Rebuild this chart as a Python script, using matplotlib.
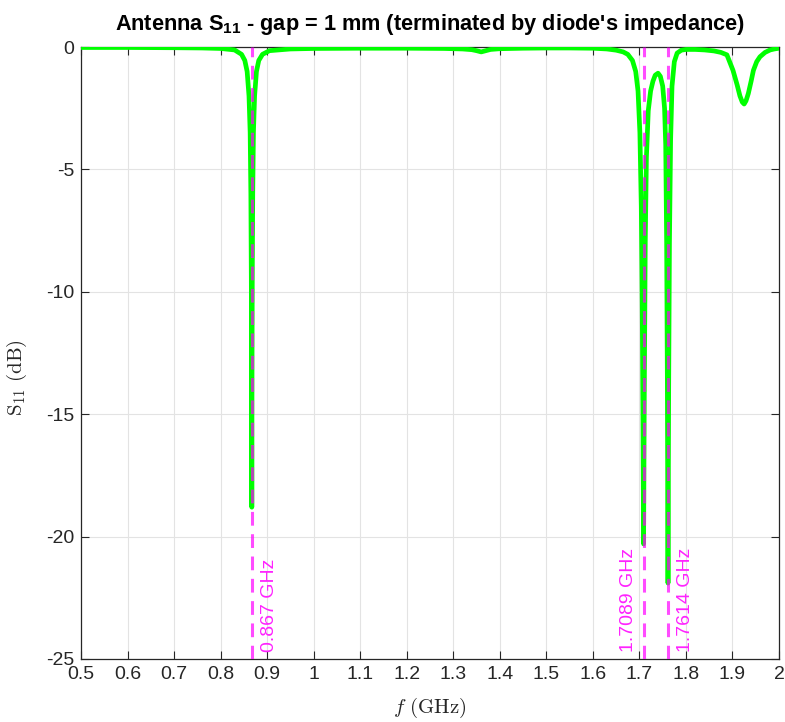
import numpy as np
import matplotlib.pyplot as plt

plt.rcParams['font.family'] = ['Liberation Sans', 'DejaVu Sans']
plt.rcParams['mathtext.fontset'] = 'cm'
plt.rcParams['mathtext.rm'] = 'Liberation Sans'
plt.rcParams['mathtext.bf'] = 'Liberation Sans:bold'

# frequency sweep (GHz) and return loss (dB)
freq_ghz = [
    0.50, 0.60, 0.70, 0.76, 0.80, 0.83, 0.845, 0.852, 0.857, 0.861,
    0.8635, 0.865, 0.866, 0.8665, 0.867, 0.8675, 0.868, 0.869, 0.8705, 0.873,
    0.877, 0.882, 0.89, 0.905, 0.95, 1.00, 1.10, 1.20, 1.28, 1.32,
    1.34, 1.35, 1.36, 1.37, 1.38, 1.40, 1.45, 1.50, 1.55, 1.60,
    1.63, 1.65, 1.665, 1.675, 1.685, 1.692, 1.697, 1.701, 1.704, 1.706,
    1.7075, 1.7089, 1.7105, 1.7125, 1.715, 1.719, 1.724, 1.729, 1.734, 1.740,
    1.745, 1.750, 1.754, 1.7565, 1.7585, 1.760, 1.7614, 1.7628, 1.7645, 1.767,
    1.770, 1.775, 1.781, 1.79, 1.80, 1.82, 1.84, 1.86, 1.875, 1.888,
    1.901, 1.910, 1.916, 1.921, 1.925, 1.929, 1.934, 1.940, 1.945, 1.952,
    1.959, 1.970, 1.981, 1.990, 2.00,
]
s11_db = [
    -0.02, -0.02, -0.03, -0.04, -0.06, -0.12, -0.3, -0.55, -1.0, -2.0,
    -3.5, -6.0, -9.5, -13.0, -18.8, -13.0, -9.5, -6.0, -3.5, -2.0,
    -1.0, -0.55, -0.3, -0.15, -0.08, -0.06, -0.05, -0.05, -0.06, -0.08,
    -0.11, -0.15, -0.2, -0.15, -0.1, -0.07, -0.05, -0.04, -0.04, -0.05,
    -0.08, -0.13, -0.2, -0.3, -0.55, -1.0, -1.8, -3.5, -6.5, -10.5,
    -15.0, -20.3, -14.0, -8.0, -4.5, -2.6, -1.8, -1.4, -1.15, -1.07,
    -1.2, -1.6, -2.5, -4.0, -8.0, -13.5, -21.9, -14.0, -8.0, -3.8,
    -1.6, -0.6, -0.25, -0.13, -0.1, -0.1, -0.12, -0.16, -0.22, -0.32,
    -0.95, -1.55, -2.0, -2.25, -2.33, -2.2, -1.9, -1.4, -0.95, -0.6,
    -0.4, -0.22, -0.12, -0.08, -0.05,
]

# resonance markers
marker_freqs = [0.867, 1.7089, 1.7614]
marker_labels = ['0.867 GHz', '1.7089 GHz', '1.7614 GHz']
marker_side = ['right', 'left', 'right']

fig = plt.figure(figsize=(7.85, 7.22), dpi=100)
ax = fig.add_axes([0.1032, 0.0873, 0.8892, 0.8476])

ax.plot(freq_ghz, s11_db, color='#00ff00', lw=3.4, solid_capstyle='butt', zorder=3)

for fm, lab, side in zip(marker_freqs, marker_labels, marker_side):
    ax.axvline(fm, color='#ff00ff', alpha=0.7, lw=2.2, ls=(0, (4.5, 2.8)), zorder=4)
    dx = 6.5 if side == 'right' else -4.5
    ax.annotate(lab, xy=(fm, -25), xytext=(dx, 5), textcoords='offset points',
                rotation=90, color='#ff22ff', fontsize=14,
                ha='left' if side == 'right' else 'right', va='bottom', zorder=5)

ax.set_xlim(0.5, 2.0)
ax.set_ylim(-25, 0)
ax.set_xticks(np.arange(0.5, 2.01, 0.1))
ax.set_xticklabels(['0.5', '0.6', '0.7', '0.8', '0.9', '1', '1.1', '1.2', '1.3',
                    '1.4', '1.5', '1.6', '1.7', '1.8', '1.9', '2'])
ax.set_yticks([-25, -20, -15, -10, -5, 0])
ax.set_yticklabels(['-25', '-20', '-15', '-10', '-5', '0'])

ax.grid(True, color='#e3e3e3', lw=0.8)
ax.set_axisbelow(True)
ax.tick_params(direction='in', top=True, right=True, length=6, width=0.8,
               labelsize=14, colors='#262626', pad=5)
for sp in ax.spines.values():
    sp.set_color('#262626')
    sp.set_linewidth(0.9)

ax.set_xlabel(r'$f\ \mathrm{(GHz)}$', fontsize=15, color='#262626', labelpad=9)
ax.set_ylabel(r'$\mathrm{S}_{11}\ \mathrm{(dB)}$', fontsize=15, color='#262626')
ax.yaxis.set_label_coords(-0.075, 0.46)
ax.set_title(r"Antenna S$_{\mathbf{11}}$ - gap = 1 mm (terminated by diode's impedance)",
             fontsize=15.7, fontweight='bold', pad=12, math_fontfamily='custom')

fig.savefig('out.png', dpi=100)
